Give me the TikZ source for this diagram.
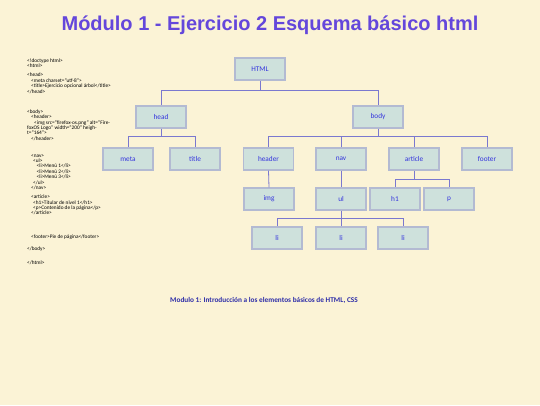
\documentclass[tikz,border=0pt]{standalone}
\usepackage{fontspec}
\setmainfont{Carlito}
\newfontfamily\titlefont{Liberation Sans}
\definecolor{bg}{HTML}{FBF3D6}
\definecolor{boxfill}{HTML}{CEE1DC}
\definecolor{boxline}{HTML}{B3BAD2}
\definecolor{conncol}{HTML}{7A78CF}
\definecolor{nodetext}{HTML}{3434DC}
\definecolor{titlecol}{HTML}{6447DB}
\definecolor{footcol}{HTML}{2C2CA8}
\tikzset{
  treebox/.style={draw=boxline, line width=1.1pt, fill=boxfill, minimum width=50pt, minimum height=22pt, inner sep=0pt, text=nodetext, font=\fontsize{7.3}{8}\selectfont},
  conn/.style={draw=conncol, line width=0.8pt}
}
\begin{document}
\begin{tikzpicture}[x=1pt,y=-1pt]
\fill[bg] (0,0) rectangle (540,405);
\useasboundingbox (0,0) rectangle (540,405);
\node[text=titlecol, font=\titlefont\bfseries\fontsize{20}{22}\selectfont] (title) at (270,25) {Módulo 1 - Ejercicio 2 Esquema básico html};
% code listing
\node[anchor=north west, inner sep=0pt, align=left, font=\fontsize{5.3}{5.4}\selectfont] (code) at (27,58.6) {%
<!doctype html>\\
<html>\\[3.6pt]
<head>\\
\hspace*{4pt}<meta charset="utf-8">\\
\hspace*{4pt}<title>Ejercicio opcional árbol</title>\\
</head>\\[14.9pt]
<body>\\
\hspace*{4pt}<header>\\
\hspace*{7pt}<img src="firefox-os.png" alt="Fire-\\
foxOS Logo" width="200" heigh-\\
t="164">\\
\hspace*{4pt}</header>\\[11.3pt]
\hspace*{4pt}<nav>\\
\hspace*{6pt}<ul>\\
\hspace*{9.5pt}<li>Menú 1</li>\\
\hspace*{9.5pt}<li>Menú 2</li>\\
\hspace*{9.5pt}<li>Menú 3</li>\\
\hspace*{6pt}</ul>\\
\hspace*{4pt}</nav>\\[3.8pt]
\hspace*{4pt}<article>\\
\hspace*{6pt}<h1>Titular de nivel 1</h1>\\
\hspace*{6pt}<p>Contenido de la página</p>\\
\hspace*{4pt}</article>\\[18.3pt]
\hspace*{4pt}<footer>Pie de página</footer>\\[6.2pt]
</body>\\[8.6pt]
</html>};
% tree nodes
\node[treebox] (html) at (260,69) {HTML};
\node[treebox] (head) at (161,117) {head};
\node[treebox] (body) at (378,117) {body};
\node[treebox] (meta) at (128,159) {meta};
\node[treebox] (titl) at (195,159) {title};
\node[treebox] (header) at (268.5,159) {header};
\node[treebox] (nav) at (341,159) {nav};
\node[treebox] (article) at (414,159) {article};
\node[treebox] (footer) at (487,159) {footer};
\node[treebox] (img) at (269,199) {img};
\node[treebox] (ul) at (341,199) {ul};
\node[treebox] (h1) at (395,199) {h1};
\node[treebox] (p) at (449,199) {p};
\node[treebox] (li1) at (277,238) {li};
\node[treebox] (li2) at (341,238) {li};
\node[treebox] (li3) at (403,238) {li};
% branch levels
\coordinate (b1) at (0,90.7);
\coordinate (b2) at (0,136.7);
\coordinate (b3) at (0,179);
\coordinate (b4) at (0,218.3);
% connectors
\draw[conn] (html.south) -- (html.south |- b1) -| (head.north);
\draw[conn] (html.south |- b1) -| (body.north);
\draw[conn] (head.south) -- (head.south |- b2) -| (meta.north);
\draw[conn] (head.south |- b2) -| (titl.north);
\draw[conn] (body.south) -- (body.south |- b2) -| (header.north);
\draw[conn] (body.south |- b2) -| (nav.north);
\draw[conn] (body.south |- b2) -| (article.north);
\draw[conn] (body.south |- b2) -| (footer.north);
\draw[conn] (header.south) -- (img.north);
\draw[conn] (nav.south) -- (ul.north);
\draw[conn] (article.south) -- (article.south |- b3) -| (h1.north);
\draw[conn] (article.south |- b3) -| (p.north);
\draw[conn] (ul.south) -- (ul.south |- b4) -| (li1.north);
\draw[conn] (ul.south |- b4) -| (li2.north);
\draw[conn] (ul.south |- b4) -| (li3.north);
% footer
\node[text=footcol, font=\bfseries\fontsize{7.3}{8}\selectfont] (foot) at (264,300) {Modulo 1: Introducción a los elementos básicos de HTML, CSS};
\end{tikzpicture}
\end{document}
